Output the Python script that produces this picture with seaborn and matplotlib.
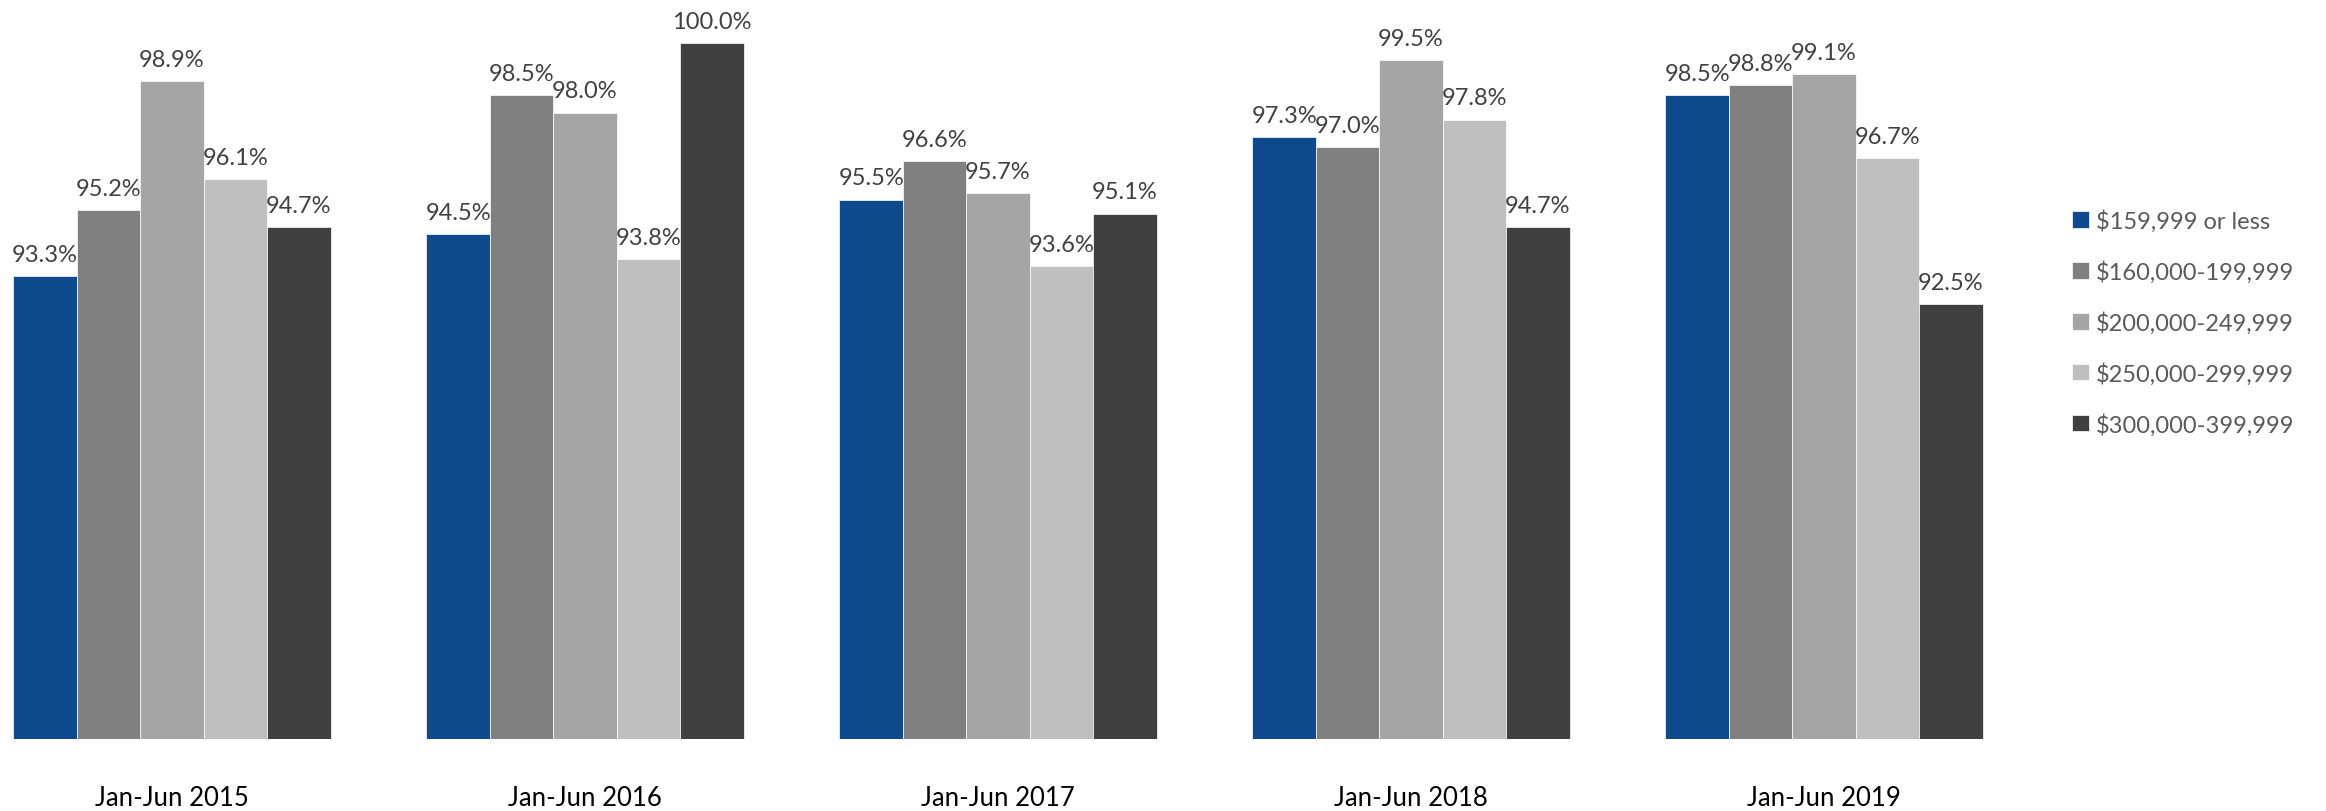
import pandas as pd
import matplotlib
matplotlib.use('Agg')
import matplotlib.pyplot as plt
import seaborn as sns

periods = ['Jan-Jun 2015', 'Jan-Jun 2016', 'Jan-Jun 2017', 'Jan-Jun 2018', 'Jan-Jun 2019']
bands = ['$159,999 or less', '$160,000-199,999', '$200,000-249,999',
         '$250,000-299,999', '$300,000-399,999']

# percent of list price received, one list per price band
band_159 = [93.3, 94.5, 95.5, 97.3, 98.5]
band_160 = [95.2, 98.5, 96.6, 97.0, 98.8]
band_200 = [98.9, 98.0, 95.7, 99.5, 99.1]
band_250 = [96.1, 93.8, 93.6, 97.8, 96.7]
band_300 = [94.7, 100.0, 95.1, 94.7, 92.5]

colors = ['#104A8E', '#808080', '#A5A5A5', '#BFBFBF', '#404040']


def main():
    series = [band_159, band_160, band_200, band_250, band_300]
    rows = []
    for band, vals in zip(bands, series):
        for p, v in zip(periods, vals):
            rows.append({'period': p, 'band': band, 'value': v})
    df = pd.DataFrame(rows)

    sns.set_style('white')
    plt.rcParams['font.family'] = ['Lato', 'DejaVu Sans']

    W, H = 2326, 812
    fig = plt.figure(figsize=(W / 100, H / 100), dpi=100)
    ax = fig.add_axes([0, 72 / H, 2000 / W, 740 / H])

    sns.barplot(data=df, x='period', y='value', hue='band', order=periods,
                hue_order=bands, palette=colors, width=0.768, saturation=1,
                edgecolor='white', linewidth=0.5, ax=ax)

    # pixel scale: 413 px per category, first group centred at x=172
    ax.set_xlim(-172 / 413, (2000 - 172) / 413)
    ax.set_ylim(80, 80 + 740 / 34.8)

    for c in ax.containers:
        ax.bar_label(c, fmt='%.1f%%', padding=8, fontsize=17,
                     color='#404040', clip_on=False)

    sns.despine(ax=ax, left=True, bottom=True)
    ax.set_yticks([])
    ax.set_xlabel('')
    ax.set_ylabel('')
    ax.tick_params(axis='x', length=0, pad=33, labelsize=18.5, labelcolor='black')

    handles, labels = ax.get_legend_handles_labels()
    ax.legend_.remove()
    fig.legend(handles, labels, loc='center left', bbox_to_anchor=(2072 / W, 0.602),
               frameon=False, fontsize=17, labelcolor='#595959',
               handlelength=0.7, handleheight=0.7, handletextpad=0.3,
               labelspacing=1.2, borderpad=0, borderaxespad=0)

    fig.savefig('out.png', dpi=100)
    plt.close(fig)


if __name__ == '__main__':
    main()
